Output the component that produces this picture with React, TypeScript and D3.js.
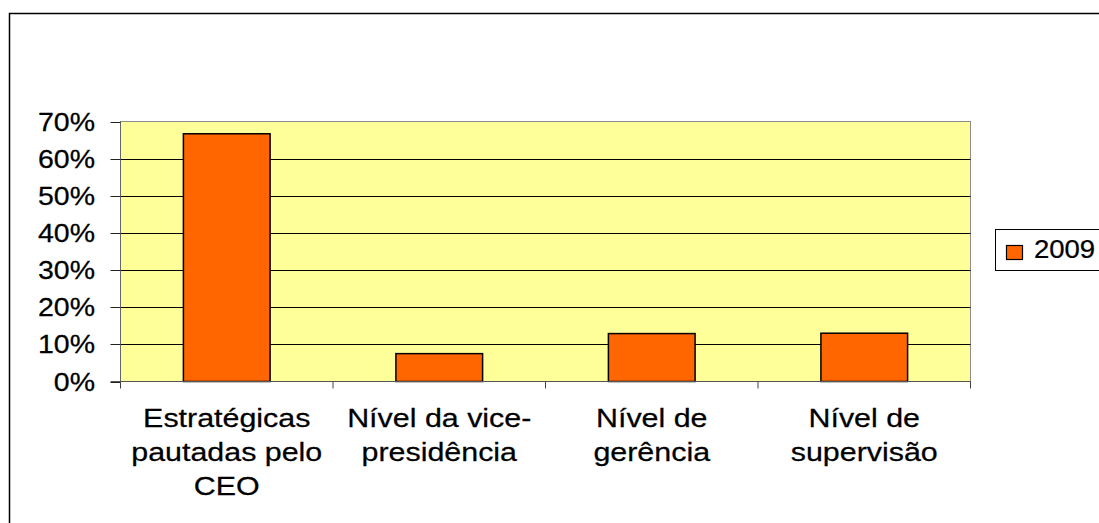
import React from "react";
import * as d3 from "d3";

const categories: string[][] = [
  ["Estratégicas", "pautadas pelo", "CEO"],
  ["Nível da vice-", "presidência"],
  ["Nível de", "gerência"],
  ["Nível de", "supervisão"],
];
const values2009: number[] = [0.667, 0.075, 0.129, 0.13];
const yTicks: number[] = [0, 0.1, 0.2, 0.3, 0.4, 0.5, 0.6, 0.7];
const seriesName = "2009";

const W = 1099;
const H = 523;
const plot = { left: 120.5, right: 970.5, top: 121.5, bottom: 381.5 };
const FONT = "'Liberation Sans', Arial, sans-serif";
const YELLOW = "#FFFF99";
const ORANGE = "#FF6600";

export default function App() {
  const x = d3
    .scaleBand<number>()
    .domain(d3.range(categories.length))
    .range([plot.left, plot.right]);
  const y = d3.scaleLinear().domain([0, 0.7]).range([plot.bottom, plot.top]);
  const barW = x.bandwidth() * 0.408;
  const fmt = d3.format(".0%");

  const stretchedText = (
    key: string | number,
    tx: number,
    ty: number,
    anchor: "start" | "middle" | "end",
    txt: string,
    fs: number,
    sx: number
  ) => (
    <text
      key={key}
      transform={`translate(${tx},${ty}) scale(${sx},1)`}
      textAnchor={anchor}
      fontFamily={FONT}
      fontSize={fs}
      fill="#000"
      stroke="#000"
      strokeWidth={0.25}
    >
      {txt}
    </text>
  );

  return (
    <svg
      width={W}
      height={H}
      style={{ position: "absolute", left: 0, top: 0, background: "#fff" }}
    >
      <rect x={9.5} y={13.5} width={1300} height={700} fill="#fff" stroke="#000" strokeWidth={1.5} />

      <rect
        x={plot.left}
        y={plot.top}
        width={plot.right - plot.left}
        height={plot.bottom - plot.top}
        fill={YELLOW}
        stroke="#8c8c8c"
        strokeWidth={1}
      />

      {yTicks
        .filter((t) => t > 0 && t < 0.7)
        .map((t) => (
          <line
            key={"g" + t}
            x1={plot.left}
            x2={plot.right}
            y1={Math.round(y(t)) + 0.5}
            y2={Math.round(y(t)) + 0.5}
            stroke="#000"
            strokeWidth={1}
          />
        ))}

      {values2009.map((v, i) => {
        const cx = (x(i) as number) + x.bandwidth() / 2;
        return (
          <rect
            key={"b" + i}
            x={cx - barW / 2}
            y={y(v)}
            width={barW}
            height={plot.bottom - y(v)}
            fill={ORANGE}
            stroke="#000"
            strokeWidth={1.5}
          />
        );
      })}

      <line x1={plot.left} x2={plot.left} y1={plot.top} y2={plot.bottom} stroke="#666" strokeWidth={1} />
      {yTicks.map((t) => (
        <g key={"yt" + t}>
          <line
            x1={plot.left - 10}
            x2={plot.left}
            y1={Math.round(y(t)) + 0.5}
            y2={Math.round(y(t)) + 0.5}
            stroke="#222"
            strokeWidth={1}
          />
          {stretchedText("yl" + t, 95, y(t) + 9, "end", fmt(t), 25, 1.14)}
        </g>
      ))}

      <line x1={plot.left - 10} x2={plot.right} y1={plot.bottom} y2={plot.bottom} stroke="#555" strokeWidth={1.2} />
      {d3.range(categories.length + 1).map((i) => {
        const xx = i < categories.length ? (x(i) as number) : plot.right;
        return (
          <line
            key={"xt" + i}
            x1={xx}
            x2={xx}
            y1={plot.bottom}
            y2={plot.bottom + 7}
            stroke="#444"
            strokeWidth={1}
          />
        );
      })}
      {categories.map((lines, i) => {
        const cx = (x(i) as number) + x.bandwidth() / 2;
        return (
          <g key={"cl" + i}>
            {lines.map((ln, j) => stretchedText(j, cx, 427 + j * 34, "middle", ln, 26, 1.17))}
          </g>
        );
      })}

      <rect x={995.5} y={229.5} width={200} height={41} fill="#fff" stroke="#000" strokeWidth={1} />
      <rect x={1006.5} y={245.5} width={16} height={14} fill={ORANGE} stroke="#000" strokeWidth={1.2} />
      {stretchedText("leg", 1034, 258, "start", seriesName, 25, 1.1)}
    </svg>
  );
}
